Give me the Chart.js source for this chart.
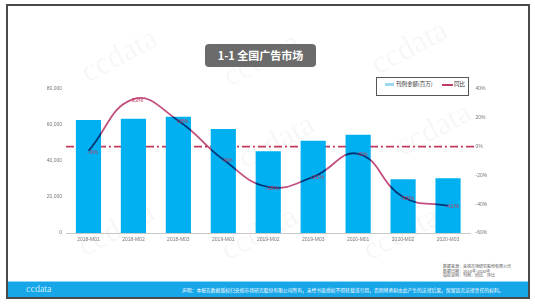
<!DOCTYPE html>
<html><head><meta charset="utf-8">
<script src="https://cdn.jsdelivr.net/npm/chart.js@4/dist/chart.umd.min.js"></script>
<style>
html,body{margin:0;padding:0;background:#fff;width:535px;height:306px;overflow:hidden;font-family:"Noto Sans CJK SC","Noto Sans",sans-serif;}
#frame{position:absolute;left:6px;top:4px;width:520px;height:291px;border:2px solid #4a4a4a;}
.wm{position:absolute;font-family:"Liberation Serif","DejaVu Serif",serif;font-size:32px;color:rgba(0,0,0,0.05);transform:rotate(-28deg);transform-origin:center;white-space:nowrap;}
#title{position:absolute;left:205px;top:44px;width:111px;height:23px;background:#6b6b6b;border-radius:4px;color:#fff;font-weight:bold;font-size:11px;line-height:23px;text-align:center;}
#legend{position:absolute;left:376px;top:77px;width:91px;height:17px;border:1px solid #555;background:transparent;font-size:5.5px;color:#333;}
.sw1{position:absolute;left:8px;top:5px;width:9px;height:3px;background:#9bd8f2;}
.t1{position:absolute;left:19px;top:2px;line-height:8px;}
.sw2{position:absolute;left:65px;top:6px;width:11px;height:1.5px;background:#c0396b;}
.t2{position:absolute;left:77px;top:2px;line-height:8px;}
#src{position:absolute;left:443px;top:264px;font-size:4px;line-height:4.5px;color:#555;white-space:nowrap;}
#foot{position:absolute;left:8px;top:281px;width:520px;height:15px;background:#17a6e8;border-top:1px solid #8dd6f6;}
#logo{position:absolute;left:18px;top:1px;font-family:"Liberation Serif","DejaVu Serif",serif;font-size:10px;color:#bfe9fb;}
#decl{position:absolute;left:174px;top:4px;font-size:4.8px;color:#fff;white-space:nowrap;}
canvas{position:absolute;left:0;top:0;}
</style></head><body>
<div class="wm" style="left:78px;top:36px;">ccdata</div>
<div class="wm" style="left:220px;top:40px;">ccdata</div>
<div class="wm" style="left:368px;top:28px;">ccdata</div>
<div class="wm" style="left:235px;top:122px;">ccdata</div>
<div class="wm" style="left:392px;top:110px;">ccdata</div>
<div class="wm" style="left:75px;top:210px;">ccdata</div>
<div class="wm" style="left:218px;top:214px;">ccdata</div>
<div class="wm" style="left:360px;top:214px;">ccdata</div>
<div id="frame"></div>
<div id="title">1-1 全国广告市场</div>
<div id="legend"><div class="sw1"></div><div class="t1">刊例金额(百万)</div><div class="sw2"></div><div class="t2">同比</div></div>
<div id="src">数据来源：央视市场研究股份有限公司<br>数据日期：2018年-2020年<br>指标说明：刊例、同比、环比</div>
<div id="foot"><div id="logo">ccdata</div><div id="decl">声明：本报告数据版权归央视市场研究股份有限公司所有，未经书面授权不得转载或引用，否则将承担由此产生的法律后果，保留追究法律责任的权利。</div></div>
<canvas id="c" width="535" height="306"></canvas>
<script>
const categories = ["2018-M01","2018-M02","2018-M03","2019-M01","2019-M02","2019-M03","2020-M01","2020-M02","2020-M03"];
const spendValues = [62800, 63500, 64600, 57800, 45400, 51300, 54600, 29800, 30400];
const yoyValues = [-3, 33, 18, -9, -28, -21, -5, -35, -41];
const leftTicks = [0, 20000, 40000, 60000, 80000];
const rightTicks = [-60, -40, -20, 0, 20, 40];

const LINE_COLOR = '#c24f80';
const DASH_COLOR = '#c8385a';

const multiplyPlugin = {
  id: 'multiply',
  beforeDatasetDraw(chart, args) {
    if (chart.data.datasets[args.index].type === 'line') {
      chart.ctx.save();
      chart.ctx.globalCompositeOperation = 'multiply';
    }
  },
  afterDatasetDraw(chart, args) {
    if (chart.data.datasets[args.index].type === 'line') chart.ctx.restore();
  }
};

const zeroLinePlugin = {
  id: 'zeroLine',
  beforeDatasetsDraw(chart) {
    const {ctx, chartArea} = chart;
    const y = chart.scales.y1.getPixelForValue(0);
    ctx.save();
    ctx.strokeStyle = DASH_COLOR;
    ctx.lineWidth = 1.6;
    ctx.setLineDash([8, 3, 2, 3]);
    ctx.beginPath();
    ctx.moveTo(chartArea.left, y);
    ctx.lineTo(chartArea.right + 4, y);
    ctx.stroke();
    ctx.restore();
  }
};

const labelPlugin = {
  id: 'pctLabels',
  afterDatasetsDraw(chart) {
    const {ctx} = chart;
    const meta = chart.getDatasetMeta(0);
    ctx.save();
    ctx.fillStyle = '#c2395c';
    ctx.font = '6px "Liberation Sans", Arial, sans-serif';
    ctx.textAlign = 'center';
    ctx.textBaseline = 'middle';
    meta.data.forEach((pt, i) => {
      ctx.fillText(yoyValues[i] + '%', pt.x + 4, pt.y + 1);
    });
    ctx.restore();
  }
};

new Chart(document.getElementById('c'), {
  data: {
    labels: categories,
    datasets: [
      {
        type: 'line', label: '同比', data: yoyValues, yAxisID: 'y1',
        borderColor: LINE_COLOR, borderWidth: 1.8, tension: 0.45,
        pointRadius: 0, fill: false, order: 0
      },
      {
        type: 'bar', label: '刊例金额(百万)', data: spendValues, yAxisID: 'y',
        backgroundColor: '#00b0f0', borderWidth: 0,
        categoryPercentage: 1, barPercentage: 0.56, order: 1
      }
    ]
  },
  options: {
    responsive: false, animation: false, devicePixelRatio: 1,
    layout: {padding: {top: 89, left: 0, right: 0, bottom: 0}},
    plugins: {legend: {display: false}, title: {display: false}, tooltip: {enabled: false}},
    scales: {
      x: {
        grid: {display: false, drawTicks: false},
        border: {display: true, color: '#c8c8c8', width: 1},
        ticks: {color: '#777', font: {size: 5, family: 'Liberation Sans'}, padding: 4, maxRotation: 0, autoSkip: false},
        afterFit(s) { s.height = 73; }
      },
      y: {
        position: 'left', min: 0, max: 80000,
        grid: {display: false, drawTicks: false}, border: {display: false},
        afterBuildTicks(s) { s.ticks = leftTicks.map(v => ({value: v})); },
        ticks: {color: '#777', font: {size: 5, family: 'Liberation Sans'}, padding: 4,
          callback: v => v.toLocaleString('en-US')},
        afterFit(s) { s.width = 66; }
      },
      y1: {
        position: 'right', min: -60, max: 40,
        grid: {display: false, drawTicks: false}, border: {display: false},
        afterBuildTicks(s) { s.ticks = rightTicks.map(v => ({value: v})); },
        ticks: {color: '#777', font: {size: 5, family: 'Liberation Sans'}, padding: 5,
          callback: v => v + '%'},
        afterFit(s) { s.width = 64.5; }
      }
    }
  },
  plugins: [multiplyPlugin, zeroLinePlugin, labelPlugin]
});
</script>
</body></html>
